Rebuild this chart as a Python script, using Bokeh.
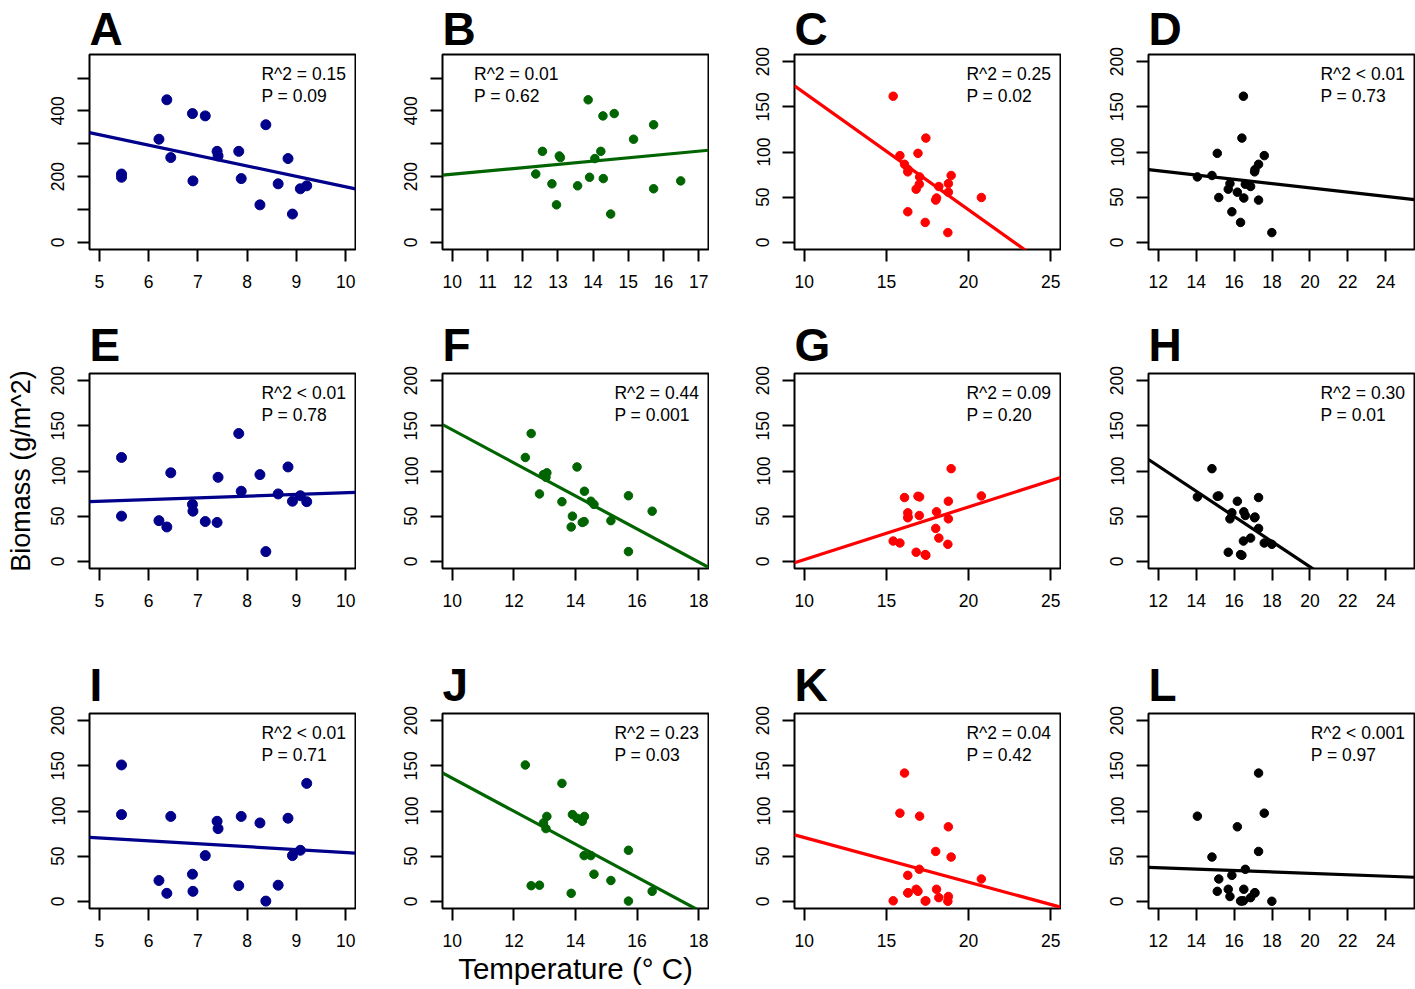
import numpy as np
from bokeh.plotting import figure
from bokeh.models import Range1d, FixedTicker, Legend, LegendItem
from bokeh.layouts import column, row
from bokeh.embed import file_html
from bokeh.resources import INLINE

FONT = "Liberation Sans"

# ---------------- data ----------------
# site group 1 (columns 1 and 2): two temperature measures per sample
temp_g1_col1 = [5.45, 5.45, 6.37, 6.21, 6.45, 6.89, 6.90, 7.15, 7.39, 7.41,
                7.83, 7.88, 8.38, 8.26, 8.63, 8.83, 8.92, 9.08, 9.21]
temp_g1_col2 = [12.37, 13.90, 13.86, 15.15, 13.07, 14.60, 16.49, 14.28, 14.22, 13.04,
                12.56, 14.29, 15.72, 12.96, 12.83, 14.05, 14.50, 15.72, 13.56]
biomass_g1_row1 = [208, 198, 434, 314, 258, 392, 187, 385, 277, 263,
                   277, 194, 358, 114, 178, 255, 86, 163, 172]
biomass_g1_row2 = [115, 50, 38, 45, 98, 63, 55.5, 44, 43, 93,
                   141.5, 77.6, 10.7, 96, 74.6, 104.5, 66.5, 72.6, 66]
biomass_g1_row3 = [151, 96, 8.8, 23, 94, 30, 11, 50.6, 88.6, 80.5,
                   17.3, 94, 0.2, 86.8, 17.8, 92, 50.6, 56.5, 130.6]

# site group 2 (columns 3 and 4)
temp_g2_col3 = [15.41, 15.82, 16.10, 16.30, 16.30, 16.32, 16.81, 16.92, 17.02, 17.00,
                17.36, 17.40, 18.00, 18.05, 18.19, 18.74, 18.77, 18.77, 18.94, 20.78]
temp_g2_col4 = [16.49, 17.59, 17.29, 17.08, 15.88, 17.10, 15.69, 15.11, 14.06, 16.59,
                16.34, 16.41, 17.29, 16.51, 16.87, 17.99, 15.78, 16.17, 14.83, 15.19]
biomass_g2_row1 = [161.8, 96, 86.4, 78, 33.8, 80.5, 58.8, 98.5, 72.4, 64.3,
                   22, 115.4, 46.7, 49, 61.8, 10.7, 65, 55.5, 74, 49.6]
biomass_g2_row2 = [22.4, 20.2, 70.6, 48.2, 53.7, 49, 10, 72, 71.3, 50.7,
                   7.4, 6.6, 36.4, 54.8, 25.7, 18.8, 47, 66.5, 102.6, 72.4]
biomass_g2_row3 = [0.5, 97.6, 142, 9.2, 28.7, 9.5, 13.3, 11, 94.3, 35.4,
                   0.3, 0.4, 55.2, 13.3, 4, 0, 5.3, 82.5, 49, 24.7]

panel_letters = ["A", "B", "C", "D", "E", "F", "G", "H", "I", "J", "K", "L"]
r2_labels = ["R^2 = 0.15", "R^2 = 0.01", "R^2 = 0.25", "R^2 < 0.01",
             "R^2 < 0.01", "R^2 = 0.44", "R^2 = 0.09", "R^2 = 0.30",
             "R^2 < 0.01", "R^2 = 0.23", "R^2 = 0.04", "R^2 < 0.001"]
p_labels = ["P = 0.09", "P = 0.62", "P = 0.02", "P = 0.73",
            "P = 0.78", "P = 0.001", "P = 0.20", "P = 0.01",
            "P = 0.71", "P = 0.03", "P = 0.42", "P = 0.97"]
y_title = "Biomass (g/m^2)"
x_title = "Temperature (\u00b0 C)"

col_temps = [temp_g1_col1, temp_g1_col2, temp_g2_col3, temp_g2_col4]
row_biomass = [[biomass_g1_row1, biomass_g1_row1, biomass_g2_row1, biomass_g2_row1],
               [biomass_g1_row2, biomass_g1_row2, biomass_g2_row2, biomass_g2_row2],
               [biomass_g1_row3, biomass_g1_row3, biomass_g2_row3, biomass_g2_row3]]
col_colors = ["#00008B", "#006400", "#FF0000", "#000000"]
row1_xlims = [(5, 10), (10, 17), (10, 25), (12, 25)]
lower_xlims = [(5, 10), (10, 18), (10, 25), (12, 25)]
row1_xticks = [[5, 6, 7, 8, 9, 10], [10, 11, 12, 13, 14, 15, 16, 17],
               [10, 15, 20, 25], [12, 14, 16, 18, 20, 22, 24]]
lower_xticks = [[5, 6, 7, 8, 9, 10], [10, 12, 14, 16, 18],
                [10, 15, 20, 25], [12, 14, 16, 18, 20, 22, 24]]
ylim_big = (0, 550)
ylim_small = (0, 200)
yticks_big = [0, 100, 200, 300, 400, 500]
yticks_small = [0, 50, 100, 150, 200]

# ---------------- layout constants ----------------
FRAME_W, FRAME_H = 266, 195
BORDER_L = [89, 86, 85, 87]
BORDER_R = 1
BORDER_T = [54, 59, 59]
TITLE_STANDOFF = [0, 5, 5]
BORDER_B = [65, 86, 78]
POINT_SIZE = [10, 8.5, 8.5, 8.5]
TICK_FS = "17.5px"


def ext(lim):
    lo, hi = lim
    d = 0.04 * (hi - lo)
    return lo - d, hi + d


def make_panel(r, c):
    idx = r * 4 + c
    xs = col_temps[c]
    ys = row_biomass[r][c]
    color = col_colors[c]
    xlim = row1_xlims[c] if r == 0 else lower_xlims[c]
    xticks = row1_xticks[c] if r == 0 else lower_xticks[c]
    big = (r == 0 and c < 2)
    ylim = ylim_big if big else ylim_small
    yticks = yticks_big if big else yticks_small

    x0, x1 = ext(xlim)
    y0, y1 = ext(ylim)
    p = figure(frame_width=FRAME_W, frame_height=FRAME_H,
               x_range=Range1d(x0, x1), y_range=Range1d(y0, y1),
               output_backend="svg", toolbar_location=None,
               min_border_left=BORDER_L[c], min_border_right=BORDER_R,
               min_border_top=BORDER_T[r], min_border_bottom=BORDER_B[r])
    p.background_fill_color = "white"
    p.border_fill_color = "white"
    p.outline_line_color = "black"
    p.outline_line_width = 2
    p.xgrid.visible = False
    p.ygrid.visible = False

    # panel letter
    p.title.text = panel_letters[idx]
    p.title.text_font = FONT
    p.title.text_font_size = "46px"
    p.title.text_font_style = "bold"
    p.title.text_color = "black"
    p.title.align = "left"
    p.title.standoff = TITLE_STANDOFF[r]
    p.title.offset = 0

    for ax in (p.xaxis[0], p.yaxis[0]):
        ax.axis_line_color = None
        ax.major_tick_out = 12
        ax.major_tick_in = 0
        ax.major_tick_line_width = 2
        ax.major_tick_line_color = "black"
        ax.minor_tick_line_color = None
        ax.major_label_text_font = FONT
        ax.major_label_text_font_size = TICK_FS
        ax.major_label_text_color = "black"
    p.xaxis[0].ticker = FixedTicker(ticks=xticks)
    p.xaxis[0].major_label_standoff = 13
    p.yaxis[0].ticker = FixedTicker(ticks=yticks)
    p.yaxis[0].major_label_orientation = "vertical"
    p.yaxis[0].major_label_standoff = 13
    if big:
        p.yaxis[0].major_label_overrides = {100: "", 300: "", 500: ""}

    if r == 1 and c == 0:
        p.yaxis[0].axis_label = y_title
        p.yaxis[0].axis_label_text_font = FONT
        p.yaxis[0].axis_label_text_font_size = "27px"
        p.yaxis[0].axis_label_text_font_style = "normal"
        p.yaxis[0].axis_label_text_color = "black"
        p.yaxis[0].axis_label_standoff = 13
    if r == 2 and c == 1:
        p.xaxis[0].axis_label = x_title
        p.xaxis[0].axis_label_text_font = FONT
        p.xaxis[0].axis_label_text_font_size = "29.5px"
        p.xaxis[0].axis_label_text_font_style = "normal"
        p.xaxis[0].axis_label_text_color = "black"
        p.xaxis[0].axis_label_standoff = 2

    # regression line (least-squares fit of the plotted points)
    slope, intercept = np.polyfit(np.array(xs, float), np.array(ys, float), 1)
    lx = np.array([x0, x1])
    p.line(lx, intercept + slope * lx, line_color=color, line_width=3.2)

    p.scatter(xs, ys, size=POINT_SIZE[c], fill_color=color, line_color=color,
              marker="circle")

    # stats "legend"
    dummy = p.line(x=[], y=[], line_alpha=0)
    topleft = (idx == 1)
    leg = Legend(items=[LegendItem(label=r2_labels[idx], renderers=[dummy]),
                        LegendItem(label=p_labels[idx], renderers=[dummy])],
                 location="top_left" if topleft else "top_right",
                 border_line_color=None, background_fill_alpha=0,
                 glyph_width=22 if topleft else 1, label_standoff=1 if topleft else 0,
                 padding=0, margin=9, spacing=0,
                 glyph_height=22, label_height=22,
                 label_text_font=FONT, label_text_font_size="17.5px",
                 label_text_color="black")
    p.add_layout(leg)
    return p


rows = []
for r in range(3):
    rows.append(row(*[make_panel(r, c) for c in range(4)]))
layout = column(*rows)

open("out.html", "w").write(file_html(layout, INLINE))
